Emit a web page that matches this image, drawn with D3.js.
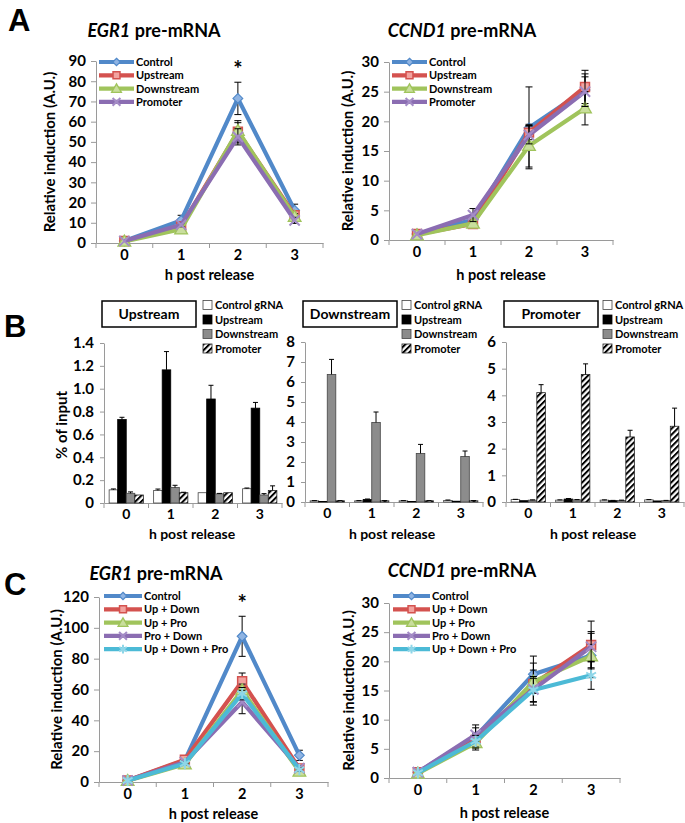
<!DOCTYPE html>
<html><head><meta charset="utf-8">
<script src="https://cdn.jsdelivr.net/npm/d3@7"></script>
<style>
body{margin:0;background:#fff}
svg{display:block}
text{font-family:Lato,"Open Sans",sans-serif;font-weight:700;fill:#000}
</style>
</head><body>
<svg id="c" width="685" height="823"></svg>
<script>
// ---------------- DATA ----------------
const hours = ["0","1","2","3"];

// Panel A series names
const aSeries = ["Control","Upstream","Downstream","Promoter"];
// Panel A — EGR1 pre-mRNA
const aEgr1Control = [1, 11.2, 71.5, 16.2];
const aEgr1ControlErr = [0.2, 2.5, 8, 3];
const aEgr1Upstream = [1, 8.3, 55, 13.7];
const aEgr1UpstreamErr = [0.2, 1.5, 5.5, 2];
const aEgr1Downstream = [0.8, 6.8, 55.5, 13];
const aEgr1DownstreamErr = [0.2, 1, 4, 1.5];
const aEgr1Promoter = [1, 9, 52.5, 11.2];
const aEgr1PromoterErr = [0.2, 1, 4, 1.5];
// Panel A — CCND1 pre-mRNA
const aCcnd1Control = [1, 3.4, 18.9, 25.3];
const aCcnd1ControlErr = [0.1, 0.8, 6.9, 2.7];
const aCcnd1Upstream = [1, 2.7, 18.1, 25.8];
const aCcnd1UpstreamErr = [0.1, 0.5, 1.2, 2.8];
const aCcnd1Downstream = [0.8, 2.8, 15.9, 22.2];
const aCcnd1DownstreamErr = [0.1, 0.5, 3.6, 2.8];
const aCcnd1Promoter = [1, 4.2, 17.7, 25];
const aCcnd1PromoterErr = [0.1, 1.1, 1.5, 2.5];

// Panel B
const bSeries = ["Control gRNA","Upstream","Downstream","Promoter"];
const bPanels = ["Upstream","Downstream","Promoter"];
// B — Upstream region
const bUpCtrl = [0.115, 0.11, 0.09, 0.125];
const bUpCtrlErr = [0.008, 0.012, 0, 0.006];
const bUpUp = [0.73, 1.165, 0.91, 0.83];
const bUpUpErr = [0.02, 0.16, 0.12, 0.05];
const bUpDown = [0.085, 0.135, 0.08, 0.07];
const bUpDownErr = [0.012, 0.02, 0.004, 0.012];
const bUpPro = [0.07, 0.09, 0.09, 0.11];
const bUpProErr = [0, 0.004, 0, 0.04];
// B — Downstream region
const bDownCtrl = [0.06, 0.06, 0.06, 0.08];
const bDownCtrlErr = [0.01, 0.01, 0.01, 0.02];
const bDownUp = [0.03, 0.13, 0.03, 0.04];
const bDownUpErr = [0, 0.02, 0, 0];
const bDownDown = [6.38, 3.98, 2.43, 2.28];
const bDownDownErr = [0.75, 0.52, 0.45, 0.27];
const bDownPro = [0.06, 0.06, 0.06, 0.06];
const bDownProErr = [0.01, 0.01, 0.01, 0.01];
// B — Promoter region
const bProCtrl = [0.09, 0.07, 0.07, 0.08];
const bProCtrlErr = [0.01, 0.01, 0.01, 0.01];
const bProUp = [0.05, 0.11, 0.05, 0.04];
const bProUpErr = [0, 0.02, 0.01, 0];
const bProDown = [0.07, 0.08, 0.06, 0.05];
const bProDownErr = [0.01, 0.01, 0.01, 0.01];
const bProPro = [4.1, 4.78, 2.44, 2.84];
const bProProErr = [0.3, 0.4, 0.25, 0.68];

// Panel C series names
const cSeries = ["Control","Up + Down","Up + Pro","Pro + Down","Up + Down + Pro"];
// Panel C — EGR1 pre-mRNA
const cEgr1Control = [1, 14, 94.5, 17.3];
const cEgr1ControlErr = [0.2, 1.5, 13, 3.3];
const cEgr1UpDown = [1, 14.5, 65.3, 8.7];
const cEgr1UpDownErr = [0.2, 1, 5.4, 1.5];
const cEgr1UpPro = [0.8, 11.5, 59.5, 6.8];
const cEgr1UpProErr = [0.2, 1, 4, 1.2];
const cEgr1ProDown = [1, 13, 51.9, 9];
const cEgr1ProDownErr = [0.2, 1, 7.6, 1.5];
const cEgr1UpDownPro = [1, 12, 57.3, 8];
const cEgr1UpDownProErr = [0.2, 1, 4, 1.2];
// Panel C — CCND1 pre-mRNA
const cCcnd1Control = [1, 7.1, 17.8, 21];
const cCcnd1ControlErr = [0.1, 2, 3.1, 3.8];
const cCcnd1UpDown = [1, 6.5, 16.1, 22.8];
const cCcnd1UpDownErr = [0.1, 1.2, 3.6, 4.1];
const cCcnd1UpPro = [0.8, 6, 16.5, 20.9];
const cCcnd1UpProErr = [0.1, 1.2, 2, 2];
const cCcnd1ProDown = [1, 7.4, 15.2, 22.5];
const cCcnd1ProDownErr = [0.1, 1.2, 2.2, 2.6];
const cCcnd1UpDownPro = [0.9, 6.3, 15.1, 17.6];
const cCcnd1UpDownProErr = [0.1, 1, 2, 2.4];

// ---------------- STYLE ----------------
const FONT = 'Lato,"Open Sans",sans-serif';
const lineColors = ["#5189c9","#d4524f","#a0c45c","#8b6db2","#4cbad6"];
const markerFill = ["#8fb4e3","#f2a3a0","#c9de9d","#a48cc6","#8fd6e8"];
const markerTypes = ["diamond","square","triangle","times","asterisk"];
const AXIS = "#9a9a9a";

const svg = d3.select("#c");
const defs = svg.append("defs");
const pat = defs.append("pattern").attr("id","hatch").attr("patternUnits","userSpaceOnUse")
  .attr("width",4.2).attr("height",4.2).attr("patternTransform","rotate(45)");
pat.append("rect").attr("width",4.2).attr("height",4.2).attr("fill","#fff");
pat.append("line").attr("x1",1).attr("y1",0).attr("x2",1).attr("y2",4.2).attr("stroke","#000").attr("stroke-width",2);

function styleAxis(g, fs){
  g.select(".domain").attr("stroke",AXIS).attr("stroke-width",1);
  g.selectAll(".tick line").attr("stroke",AXIS);
  g.selectAll(".tick text").attr("fill","#000").style("font-family",FONT).style("font-weight","700").style("font-size",fs+"px");
}

function marker(g, type, i, cx, cy, sc){
  const c = lineColors[i], f = markerFill[i];
  sc = sc || 1;
  if(type==="diamond"){
    g.append("path").attr("d",d3.symbol(d3.symbolDiamond2,60*sc)()).attr("transform",`translate(${cx},${cy})`)
      .attr("fill",f).attr("stroke",c).attr("stroke-width",1.2);
  } else if(type==="square"){
    g.append("path").attr("d",d3.symbol(d3.symbolSquare,80*sc)()).attr("transform",`translate(${cx},${cy})`)
      .attr("fill",f).attr("stroke",c).attr("stroke-width",1.5);
  } else if(type==="triangle"){
    g.append("path").attr("d",d3.symbol(d3.symbolTriangle,70*sc)()).attr("transform",`translate(${cx},${cy+1})`)
      .attr("fill",f).attr("stroke",c).attr("stroke-width",1.3);
  } else if(type==="times"){
    g.append("path").attr("d",d3.symbol(d3.symbolTimes,70*sc)()).attr("transform",`translate(${cx},${cy})`)
      .attr("fill","none").attr("stroke",f).attr("stroke-width",2);
  } else {
    g.append("path").attr("d",d3.symbol(d3.symbolAsterisk,90*sc)()).attr("transform",`translate(${cx},${cy})`)
      .attr("fill","none").attr("stroke",f).attr("stroke-width",2);
  }
}

function lineChart(o){
  const g = svg.append("g");
  const x = d3.scaleBand().domain(hours).range([o.x0,o.x1]);
  const y = d3.scaleLinear().domain([0,o.ymax]).range([o.yb,o.yt]);
  const ya = g.append("g").attr("transform",`translate(${o.x0},0)`)
    .call(d3.axisLeft(y).tickValues(d3.range(0,o.ymax+1e-9,o.step)).tickSize(5).tickSizeOuter(0).tickPadding(5));
  styleAxis(ya,15);
  const xa = g.append("g").attr("transform",`translate(0,${o.yb})`)
    .call(d3.axisBottom(x).tickSize(0).tickSizeOuter(0).tickPadding(7));
  styleAxis(xa,14.5);
  g.selectAll(".bt").data(d3.range(hours.length+1)).join("line")
    .attr("x1",d=>o.x0+d*x.step()).attr("x2",d=>o.x0+d*x.step())
    .attr("y1",o.yb).attr("y2",o.yb+5).attr("stroke",AXIS);
  const cx = d=>x(d)+x.bandwidth()/2;
  o.series.forEach((s,i)=>{
    const pts = hours.map((h,k)=>({h, v:s.values[k], e:s.errs[k]}));
    pts.forEach(p=>{
      if(p.e<=0.25) return;
      const X = cx(p.h);
      g.append("line").attr("x1",X).attr("x2",X).attr("y1",y(p.v-p.e)).attr("y2",y(p.v+p.e)).attr("stroke","#000").attr("stroke-width",1);
      [p.v-p.e,p.v+p.e].forEach(v=>g.append("line").attr("x1",X-3.5).attr("x2",X+3.5).attr("y1",y(v)).attr("y2",y(v)).attr("stroke","#000").attr("stroke-width",1));
    });
    g.append("path").datum(pts).attr("fill","none").attr("stroke",lineColors[i]).attr("stroke-width",4.2)
      .attr("stroke-linejoin","round")
      .attr("d",d3.line().x(p=>cx(p.h)).y(p=>y(p.v)));
    pts.forEach(p=>marker(g, markerTypes[i], i, cx(p.h), y(p.v)));
  });
  o.series.forEach((s,i)=>{
    const ly = o.legY + i*o.legDy;
    g.append("line").attr("x1",o.legX0).attr("x2",o.legX1).attr("y1",ly).attr("y2",ly)
      .attr("stroke",lineColors[i]).attr("stroke-width",4.2);
    marker(g, markerTypes[i], i, (o.legX0+o.legX1)/2, ly, 0.6);
    g.append("text").attr("x",o.legX1+2).attr("y",ly+4).style("font-size","11px").text(s.name);
  });
  const t = g.append("text").attr("x",o.titleX).attr("y",o.titleY).attr("text-anchor","middle").style("font-size","18px");
  t.append("tspan").style("font-style","italic").text(o.gene);
  t.append("tspan").text(" pre-mRNA");
  g.append("text").attr("x",(o.x0+o.x1)/2).attr("y",o.yb+o.xtDy).attr("text-anchor","middle").style("font-size","14.5px").text("h post release");
  g.append("text").attr("transform",`translate(${o.ylabX},${(o.yb+o.yt)/2}) rotate(-90)`).attr("text-anchor","middle")
    .attr("dy","0.35em").style("font-size","15px").text("Relative induction (A.U.)");
  if(o.star!==undefined){
    g.append("text").attr("x",cx(hours[o.star])).attr("y",y(o.starV)).attr("text-anchor","middle").style("font-size","22px").text("*");
  }
}

function barChart(o){
  const g = svg.append("g");
  const x0 = d3.scaleBand().domain(hours).range([o.x0,o.x1]);
  const x1 = d3.scaleBand().domain(bSeries).range([0,x0.bandwidth()]).paddingOuter(0.6);
  const y = d3.scaleLinear().domain([0,o.ymax]).range([o.yb,o.yt]);
  const ya = g.append("g").attr("transform",`translate(${o.x0},0)`)
    .call(d3.axisLeft(y).tickValues(d3.range(0,o.ymax+1e-9,o.step)).tickSize(4).tickSizeOuter(0).tickPadding(6)
      .tickFormat(o.fmt));
  styleAxis(ya,15);
  const xa = g.append("g").attr("transform",`translate(0,${o.yb})`)
    .call(d3.axisBottom(x0).tickSize(0).tickSizeOuter(0).tickPadding(6));
  styleAxis(xa,14);
  g.selectAll(".bt").data(d3.range(hours.length+1)).join("line")
    .attr("x1",d=>o.x0+d*x0.step()).attr("x2",d=>o.x0+d*x0.step())
    .attr("y1",o.yb).attr("y2",o.yb+5).attr("stroke",AXIS);
  const fills = ["#fff","#000","#8c8c8c","url(#hatch)"];
  const strokes = ["#444","#000","#444","#222"];
  o.series.forEach((s,i)=>{
    hours.forEach((h,k)=>{
      const bx = x0(h)+x1(bSeries[i]);
      const v = s.values[k], e = s.errs[k];
      g.append("rect").attr("x",bx).attr("y",y(v)).attr("width",x1.bandwidth()).attr("height",o.yb-y(v))
        .attr("fill",fills[i]).attr("stroke",strokes[i]).attr("stroke-width",0.8);
      if(e>0){
        const X = bx+x1.bandwidth()/2;
        g.append("line").attr("x1",X).attr("x2",X).attr("y1",y(v)).attr("y2",y(v+e)).attr("stroke","#000").attr("stroke-width",1);
        g.append("line").attr("x1",X-2.5).attr("x2",X+2.5).attr("y1",y(v+e)).attr("y2",y(v+e)).attr("stroke","#000").attr("stroke-width",1);
      }
    });
  });
  g.append("rect").attr("x",o.boxX).attr("y",301).attr("width",94).attr("height",26)
    .attr("fill","#fff").attr("stroke","#000").attr("stroke-width",1.5);
  g.append("text").attr("x",o.boxX+47).attr("y",319).attr("text-anchor","middle").style("font-size","14px").text(o.name);
  bSeries.forEach((n,i)=>{
    const ly = 305 + i*14.5;
    g.append("rect").attr("x",o.legX).attr("y",ly-4.5).attr("width",9).attr("height",9)
      .attr("fill",fills[i]).attr("stroke",strokes[i]).attr("stroke-width",0.8);
    g.append("text").attr("x",o.legX+12).attr("y",ly+4).style("font-size","11px").text(n);
  });
  g.append("text").attr("x",o.xtX).attr("y",539).attr("text-anchor","middle").style("font-size","14px").text("h post release");
}

// ---------------- PANELS ----------------
lineChart({gene:"EGR1", x0:96, x1:323, yb:243, yt:61, ymax:90, step:10, ylabX:50, xtDy:37,
  titleX:154, titleY:37, legX0:99, legX1:134, legY:62, legDy:13.3, star:2, starV:82,
  series:[
    {name:aSeries[0], values:aEgr1Control, errs:aEgr1ControlErr},
    {name:aSeries[1], values:aEgr1Upstream, errs:aEgr1UpstreamErr},
    {name:aSeries[2], values:aEgr1Downstream, errs:aEgr1DownstreamErr},
    {name:aSeries[3], values:aEgr1Promoter, errs:aEgr1PromoterErr}]});

lineChart({gene:"CCND1", x0:389, x1:613, yb:240, yt:62, ymax:30, step:5, ylabX:348, xtDy:40,
  titleX:462, titleY:37, legX0:392, legX1:427, legY:62, legDy:13.3,
  series:[
    {name:aSeries[0], values:aCcnd1Control, errs:aCcnd1ControlErr},
    {name:aSeries[1], values:aCcnd1Upstream, errs:aCcnd1UpstreamErr},
    {name:aSeries[2], values:aCcnd1Downstream, errs:aCcnd1DownstreamErr},
    {name:aSeries[3], values:aCcnd1Promoter, errs:aCcnd1PromoterErr}]});

barChart({name:bPanels[0], x0:104, x1:282, yb:503, yt:343, ymax:1.4, step:0.2,
  fmt:d=>d===0?"0":d3.format(".1f")(d), boxX:102, legX:203, xtX:192,
  series:[{values:bUpCtrl,errs:bUpCtrlErr},{values:bUpUp,errs:bUpUpErr},{values:bUpDown,errs:bUpDownErr},{values:bUpPro,errs:bUpProErr}]});
barChart({name:bPanels[1], x0:305, x1:483, yb:502, yt:342, ymax:8, step:1,
  fmt:d3.format("d"), boxX:303, legX:402, xtX:392,
  series:[{values:bDownCtrl,errs:bDownCtrlErr},{values:bDownUp,errs:bDownUpErr},{values:bDownDown,errs:bDownDownErr},{values:bDownPro,errs:bDownProErr}]});
barChart({name:bPanels[2], x0:506, x1:684, yb:502, yt:342, ymax:6, step:1,
  fmt:d3.format("d"), boxX:504, legX:603, xtX:593,
  series:[{values:bProCtrl,errs:bProCtrlErr},{values:bProUp,errs:bProUpErr},{values:bProDown,errs:bProDownErr},{values:bProPro,errs:bProProErr}]});
svg.append("text").attr("transform","translate(62,425) rotate(-90)").attr("text-anchor","middle").attr("dy","0.35em")
  .style("font-size","15px").text("% of input");

lineChart({gene:"EGR1", x0:99, x1:328, yb:782, yt:597, ymax:120, step:20, ylabX:57, xtDy:37,
  titleX:156, titleY:580, legX0:104, legX1:142, legY:596, legDy:13.3, star:2, starV:111,
  series:[
    {name:cSeries[0], values:cEgr1Control, errs:cEgr1ControlErr},
    {name:cSeries[1], values:cEgr1UpDown, errs:cEgr1UpDownErr},
    {name:cSeries[2], values:cEgr1UpPro, errs:cEgr1UpProErr},
    {name:cSeries[3], values:cEgr1ProDown, errs:cEgr1ProDownErr},
    {name:cSeries[4], values:cEgr1UpDownPro, errs:cEgr1UpDownProErr}]});

lineChart({gene:"CCND1", x0:389, x1:620, yb:778, yt:603, ymax:30, step:5, ylabX:349, xtDy:40,
  titleX:462, titleY:577, legX0:393, legX1:430, legY:596, legDy:13.3,
  series:[
    {name:cSeries[0], values:cCcnd1Control, errs:cCcnd1ControlErr},
    {name:cSeries[1], values:cCcnd1UpDown, errs:cCcnd1UpDownErr},
    {name:cSeries[2], values:cCcnd1UpPro, errs:cCcnd1UpProErr},
    {name:cSeries[3], values:cCcnd1ProDown, errs:cCcnd1ProDownErr},
    {name:cSeries[4], values:cCcnd1UpDownPro, errs:cCcnd1UpDownProErr}]});

[["A",8,31],["B",4,337],["C",4,595]].forEach(([t,x,yy])=>
  svg.append("text").attr("x",x).attr("y",yy).style("font-family","'Liberation Sans',Arial,sans-serif")
    .style("font-size","31px").style("font-weight","700").text(t));
</script>
</body></html>
